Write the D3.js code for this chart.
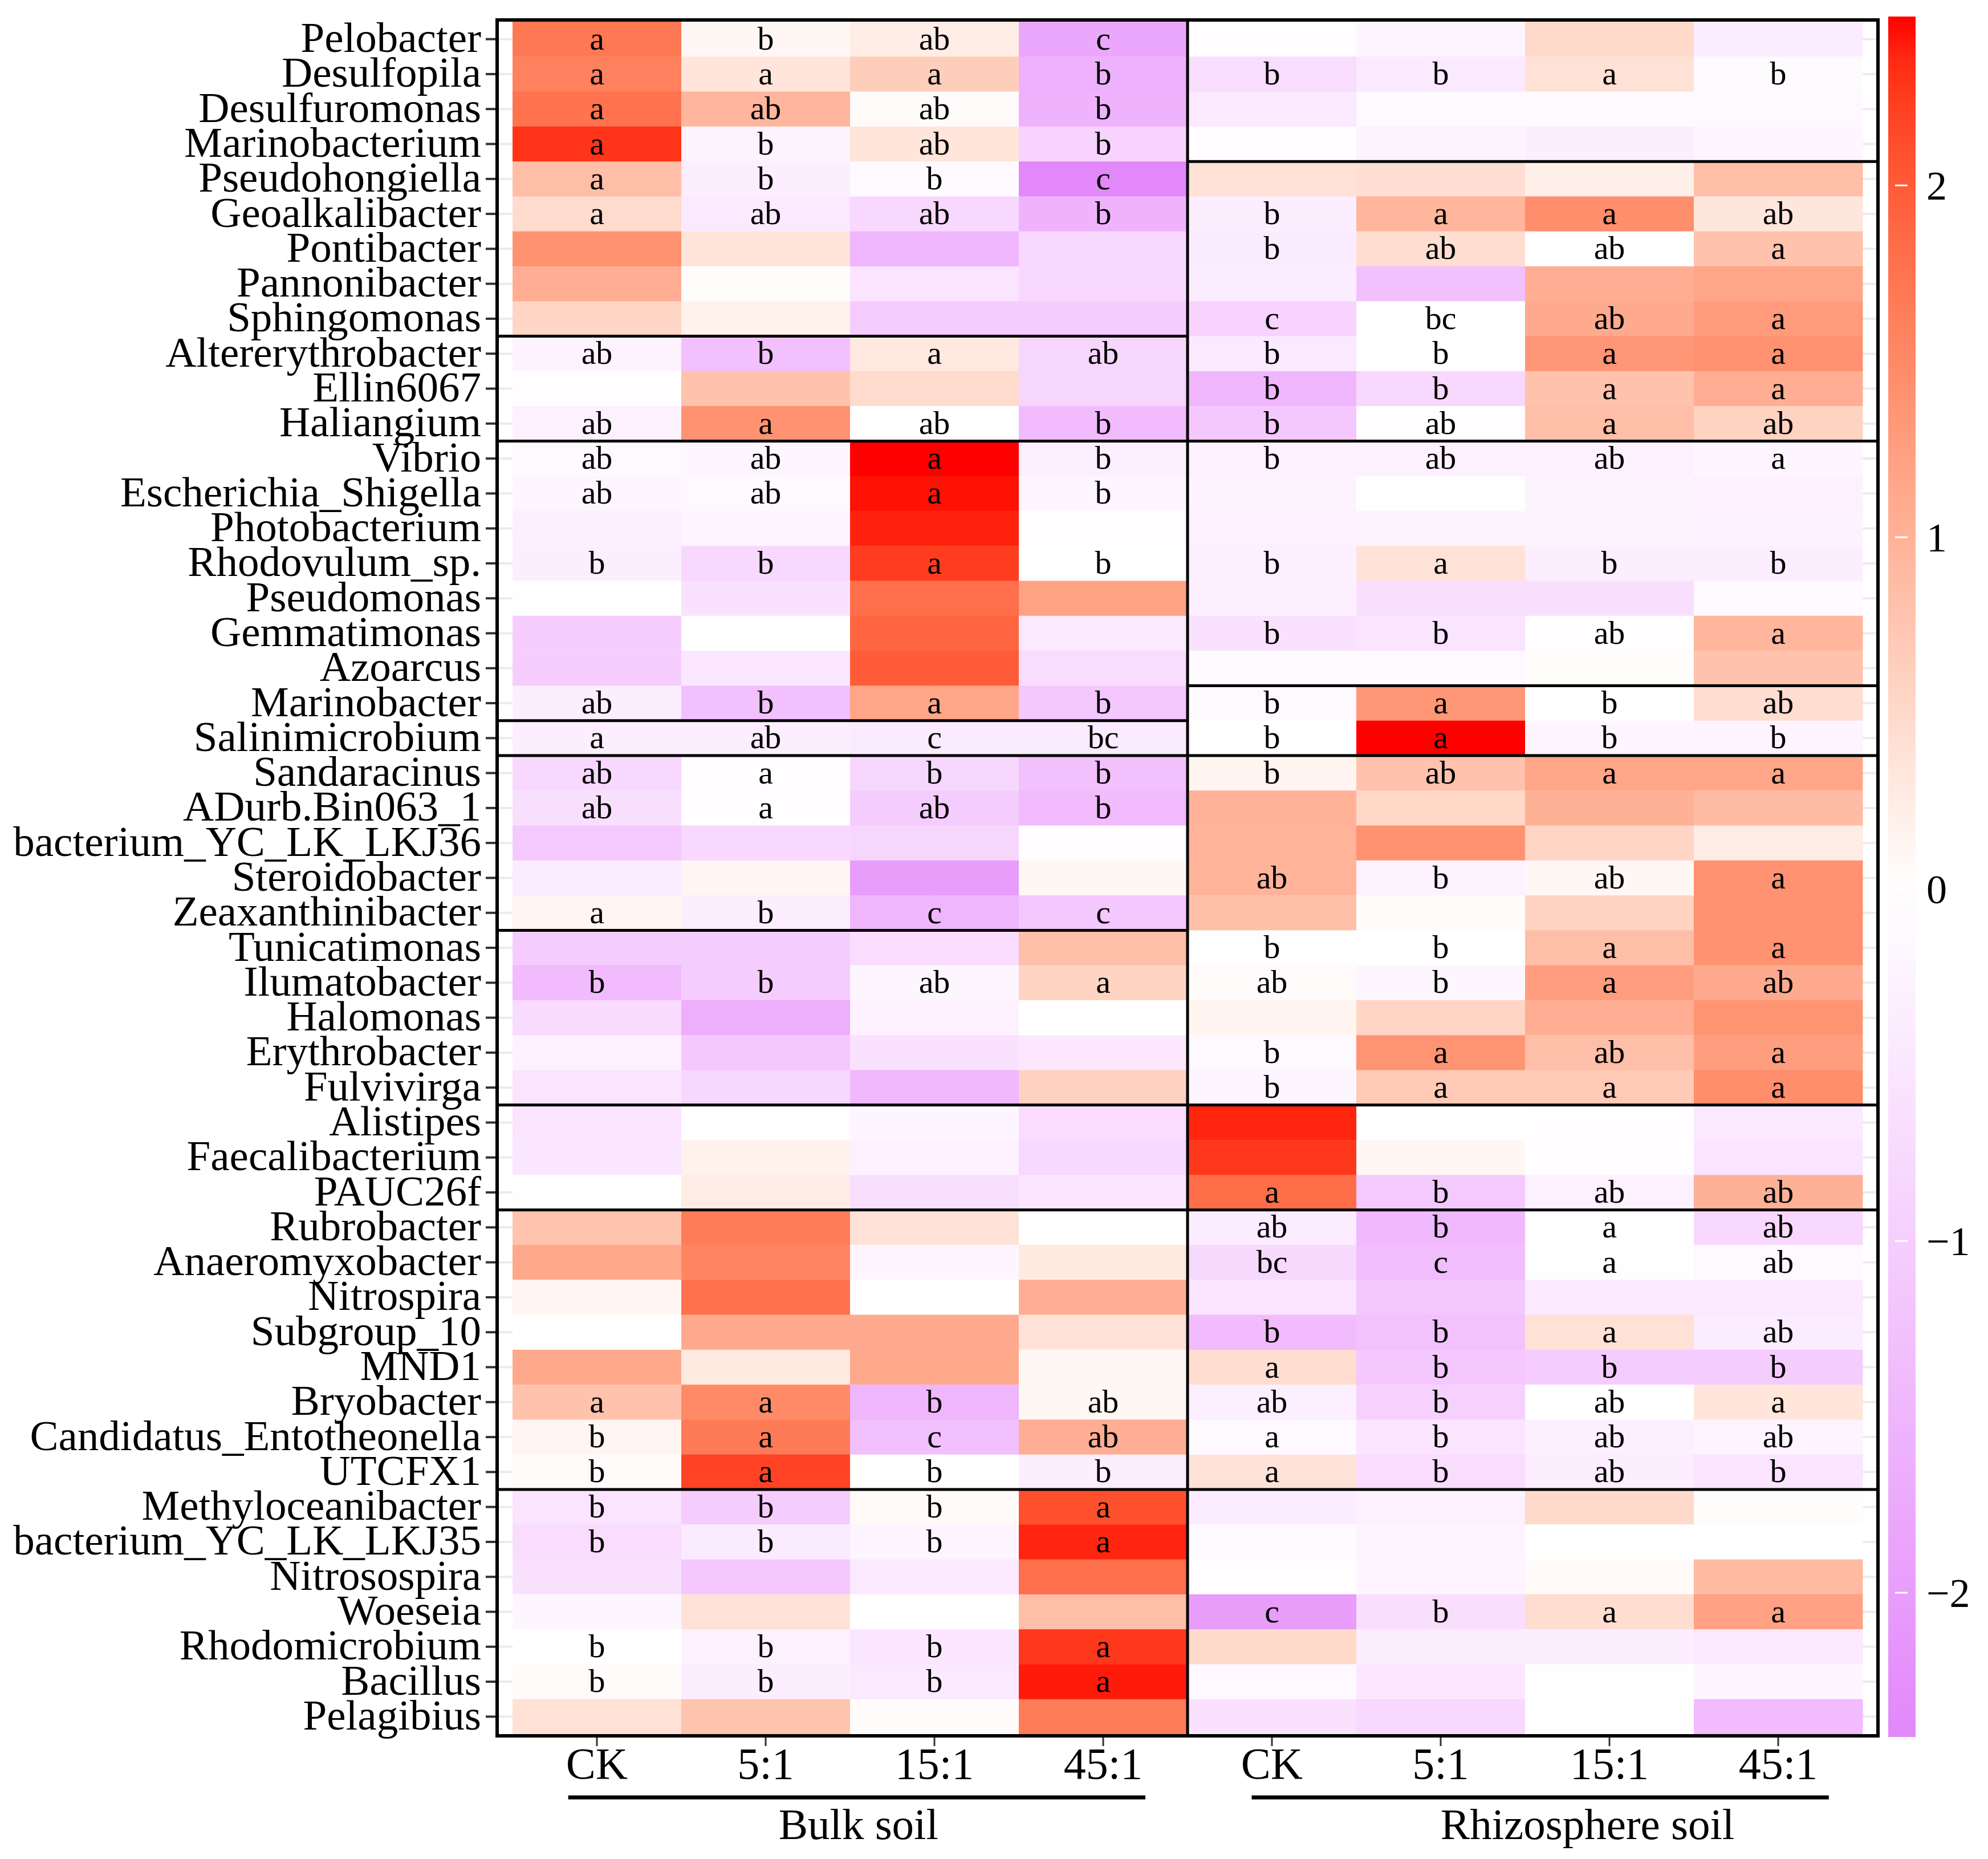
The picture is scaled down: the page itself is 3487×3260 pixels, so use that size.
<!DOCTYPE html>
<html>
<head>
<meta charset="utf-8">
<script src="https://cdn.jsdelivr.net/npm/d3@7"></script>
<style>
  body { margin: 0; background: #fff; }
  svg { display: block; }
</style>
</head>
<body>
<svg id="chart"></svg>
<script>
// genera (rows, top to bottom)
var genera = ["Pelobacter", "Desulfopila", "Desulfuromonas", "Marinobacterium", "Pseudohongiella",
    "Geoalkalibacter", "Pontibacter", "Pannonibacter", "Sphingomonas", "Altererythrobacter",
    "Ellin6067", "Haliangium", "Vibrio", "Escherichia_Shigella", "Photobacterium",
    "Rhodovulum_sp.", "Pseudomonas", "Gemmatimonas", "Azoarcus", "Marinobacter",
    "Salinimicrobium", "Sandaracinus", "ADurb.Bin063_1", "bacterium_YC_LK_LKJ36", "Steroidobacter",
    "Zeaxanthinibacter", "Tunicatimonas", "Ilumatobacter", "Halomonas", "Erythrobacter",
    "Fulvivirga", "Alistipes", "Faecalibacterium", "PAUC26f", "Rubrobacter",
    "Anaeromyxobacter", "Nitrospira", "Subgroup_10", "MND1", "Bryobacter",
    "Candidatus_Entotheonella", "UTCFX1", "Methyloceanibacter", "bacterium_YC_LK_LKJ35", "Nitrosospira",
    "Woeseia", "Rhodomicrobium", "Bacillus", "Pelagibius"];

var soils = ["Bulk soil", "Rhizosphere soil"];
var treatments = ["CK", "5:1", "15:1", "45:1"];

// z-scores, columns CK, 5:1, 15:1, 45:1
var bulkValues = [
    [1.7, 0.1, 0.25, -1.8], [1.6, 0.35, 0.65, -1.6], [1.75, 0.95, 0.05, -1.55], [2.3, -0.25, 0.35, -0.9],
    [0.85, -0.35, -0.1, -2.4], [0.48, -0.45, -0.8, -1.55], [1.4, 0.35, -1.5, -0.8], [1.05, 0.03, -0.55, -0.8],
    [0.55, 0.18, -1.05, -1.05], [-0.25, -1.3, 0.3, -0.85], [0.02, 0.8, 0.48, -0.85], [-0.3, 1.4, 0.0, -1.4],
    [-0.15, -0.18, 2.48, -0.33], [-0.18, -0.15, 2.45, -0.2], [-0.33, -0.22, 2.4, 0.02], [-0.35, -0.8, 2.25, 0.0],
    [-0.02, -0.6, 1.8, 1.2], [-1.0, 0.0, 1.9, -0.45], [-1.0, -0.5, 2.0, -0.7], [-0.35, -1.3, 1.15, -1.15],
    [-0.38, -0.38, -0.42, -0.42], [-0.8, -0.05, -0.85, -1.3], [-0.65, -0.05, -1.05, -1.4], [-1.1, -0.8, -0.85, -0.05],
    [-0.4, 0.13, -2.0, 0.1], [0.13, -0.38, -1.5, -1.15], [-1.05, -1.05, -0.72, 0.85], [-1.4, -1.05, -0.18, 0.57],
    [-0.75, -1.65, -0.3, 0.0], [-0.28, -1.15, -0.6, -0.48], [-0.55, -0.82, -1.45, 0.6], [-0.55, -0.02, -0.2, -0.72],
    [-0.52, 0.17, -0.28, -0.8], [-0.02, 0.25, -0.65, -0.52], [0.78, 1.65, 0.38, 0.0], [1.12, 1.55, -0.18, 0.28],
    [0.13, 1.78, 0.0, 1.05], [0.0, 1.1, 1.1, 0.38], [1.12, 0.28, 1.12, 0.1], [0.8, 1.5, -1.5, 0.1],
    [0.13, 1.68, -1.3, 1.05], [0.05, 2.2, 0.0, -0.38], [-0.55, -1.05, 0.07, 2.1], [-0.72, -0.42, -0.2, 2.38],
    [-0.6, -1.15, -0.45, 1.8], [-0.18, 0.38, 0.0, 0.85], [0.0, -0.28, -0.52, 2.28], [0.05, -0.38, -0.45, 2.42],
    [0.4, 0.78, 0.05, 1.65]
];

var rhizoValues = [
    [-0.05, -0.2, 0.5, -0.4], [-0.7, -0.45, 0.4, -0.08], [-0.45, -0.15, -0.1, -0.15], [-0.05, -0.25, -0.35, -0.2],
    [0.4, 0.42, 0.2, 0.85], [-0.38, 0.95, 1.45, 0.33], [-0.42, 0.45, -0.03, 0.8], [-0.4, -1.3, 1.05, 1.15],
    [-0.9, -0.03, 1.1, 1.3], [-0.45, -0.02, 1.35, 1.4], [-1.5, -0.8, 0.8, 1.05], [-1.15, 0.02, 0.85, 0.58],
    [-0.3, -0.28, -0.28, -0.2], [-0.25, -0.03, -0.25, -0.28], [-0.28, -0.25, -0.25, -0.27], [-0.33, 0.38, -0.35, -0.35],
    [-0.33, -0.65, -0.65, -0.1], [-0.6, -0.55, 0.02, 0.95], [-0.1, -0.15, 0.03, 0.8], [-0.15, 1.35, 0.0, 0.45],
    [0.0, 2.48, -0.2, -0.22], [0.15, 0.8, 1.15, 1.15], [1.0, 0.52, 1.02, 0.88], [0.98, 1.4, 0.55, 0.25],
    [0.98, -0.25, 0.1, 1.4], [0.82, 0.05, 0.57, 1.4], [-0.03, 0.0, 0.85, 1.4], [0.05, -0.18, 1.25, 1.1],
    [0.15, 0.55, 1.05, 1.38], [-0.15, 1.38, 0.85, 1.25], [-0.2, 0.7, 0.7, 1.45], [2.38, 0.0, -0.05, -0.45],
    [2.28, 0.1, -0.05, -0.55], [1.82, -1.1, -0.3, 1.02], [-0.4, -1.45, 0.0, -0.8], [-0.78, -1.35, -0.02, -0.12],
    [-0.55, -1.15, -0.43, -0.43], [-1.4, -1.25, 0.4, -0.4], [0.45, -1.15, -1.05, -1.05], [-0.33, -0.95, 0.0, 0.35],
    [-0.15, -0.55, -0.32, -0.22], [0.38, -0.72, -0.38, -0.55], [-0.4, -0.28, 0.5, 0.03], [-0.1, -0.22, 0.0, 0.0],
    [0.02, -0.22, 0.07, 0.9], [-2.0, -0.68, 0.45, 1.22], [0.5, -0.38, -0.38, -0.45], [-0.15, -0.48, -0.03, -0.18],
    [-0.6, -0.8, -0.03, -1.4]
];

// significance letters per row ("" = none)
var bulkLetters = [
    "a b ab c", "a a a b", "a ab ab b", "a b ab b", "a b b c", "a ab ab b", "", "", "",
    "ab b a ab", "", "ab a ab b", "ab ab a b", "ab ab a b", "", "b b a b", "", "", "",
    "ab b a b", "a ab c bc", "ab a b b", "ab a ab b", "", "", "a b c c", "", "b b ab a",
    "", "", "", "", "", "", "", "", "", "", "", "a a b ab", "b a c ab", "b a b b",
    "b b b a", "b b b a", "", "", "b b b a", "b b b a", ""
];
var rhizoLetters = [
    "", "b b a b", "", "", "", "b a a ab", "b ab ab a", "", "c bc ab a", "b b a a",
    "b b a a", "b ab a ab", "b ab ab a", "", "", "b a b b", "", "b b ab a", "",
    "b a b ab", "b a b b", "b ab a a", "", "", "ab b ab a", "", "b b a a", "ab b a ab",
    "", "b a ab a", "b a a a", "", "", "a b ab ab", "ab b a ab", "bc c a ab", "",
    "b b a ab", "a b b b", "ab b ab a", "a b ab ab", "a b ab b", "", "", "", "c b a a",
    "", "", ""
];

// cluster boundaries (row counts) drawn as boxes
var bulkBreaks = [9, 12, 20, 21, 26, 31, 34, 42];
var rhizoBreaks = [4, 12, 19, 21, 31, 34, 42];

var colorTicks = [-2, -1, 0, 1, 2];

var width = 3487, height = 3260;
var svg = d3.select("#chart").attr("width", width).attr("height", height);
var font = "'Liberation Serif', 'Times New Roman', serif";

// columns: soil x treatment
var columns = [];
soils.forEach((s, si) => treatments.forEach(t => columns.push({ key: si + "|" + t, soil: si, label: t })));

var x = d3.scaleBand().domain(columns.map(c => c.key)).range([899, 3267]);
var y = d3.scaleBand().domain(genera).range([38, 3041]);

var panel = { x0: 872, x1: 3294, y0: 35, y1: 3044 };

var color = d3.scaleLinear()
    .domain([-2.48, 0, 2.48])
    .range(["#e184fa", "#ffffff", "#ff0000"])
    .interpolate(d3.interpolateLab);

// cells
var cells = [];
genera.forEach((g, ri) => {
    [bulkValues, rhizoValues].forEach((vals, si) => {
        var lets = (si === 0 ? bulkLetters : rhizoLetters)[ri];
        var parts = lets ? lets.split(" ") : [];
        treatments.forEach((t, ti) => {
            cells.push({ row: g, col: si + "|" + t, v: vals[ri][ti], letter: parts[ti] || "" });
        });
    });
});

// grid lines (visible in the expansion gap)
var grid = svg.append("g");
grid.selectAll("line.h").data(genera).join("line")
    .attr("x1", panel.x0).attr("x2", panel.x1)
    .attr("y1", d => y(d) + y.bandwidth() / 2).attr("y2", d => y(d) + y.bandwidth() / 2)
    .attr("stroke", "#ebebeb").attr("stroke-width", 4);
grid.selectAll("line.v").data(columns).join("line")
    .attr("y1", panel.y0).attr("y2", panel.y1)
    .attr("x1", d => x(d.key) + x.bandwidth() / 2).attr("x2", d => x(d.key) + x.bandwidth() / 2)
    .attr("stroke", "#ebebeb").attr("stroke-width", 4);

svg.append("g").selectAll("rect").data(cells).join("rect")
    .attr("x", d => x(d.col))
    .attr("y", d => y(d.row))
    .attr("width", x.bandwidth() + 0.5)
    .attr("height", y.bandwidth() + 0.5)
    .attr("fill", d => color(d.v));

svg.append("g").selectAll("text").data(cells.filter(d => d.letter)).join("text")
    .attr("x", d => x(d.col) + x.bandwidth() / 2)
    .attr("y", d => y(d.row) + y.bandwidth() / 2 + 18)
    .attr("text-anchor", "middle")
    .attr("font-family", font)
    .attr("font-size", 58)
    .attr("fill", "#000")
    .text(d => d.letter);

// cluster boxes
function boxLines(breaks, xa, xb) {
    var g = svg.append("g");
    g.selectAll("line").data(breaks).join("line")
        .attr("x1", xa).attr("x2", xb)
        .attr("y1", d => y(genera[d])).attr("y2", d => y(genera[d]))
        .attr("stroke", "#000").attr("stroke-width", 5);
}
var mid = x(columns[4].key);
boxLines(bulkBreaks, panel.x0, mid);
boxLines(rhizoBreaks, mid, panel.x1);
svg.append("line")
    .attr("x1", mid).attr("x2", mid).attr("y1", panel.y0).attr("y2", panel.y1)
    .attr("stroke", "#000").attr("stroke-width", 5);
svg.append("rect")
    .attr("x", panel.x0).attr("y", panel.y0)
    .attr("width", panel.x1 - panel.x0).attr("height", panel.y1 - panel.y0)
    .attr("fill", "none").attr("stroke", "#000").attr("stroke-width", 6);

// y axis
var yAxis = svg.append("g")
    .attr("transform", "translate(" + (panel.x0 - 3) + ",0)")
    .call(d3.axisLeft(y).tickSize(17).tickPadding(8));
yAxis.select(".domain").remove();
yAxis.selectAll("line").attr("stroke", "#333").attr("stroke-width", 4);
yAxis.selectAll("text").attr("font-family", font).attr("font-size", 75).attr("fill", "#000").attr("dy", "0.3em");

// x axis
var xAxis = svg.append("g")
    .attr("transform", "translate(0," + (panel.y1 + 3) + ")")
    .call(d3.axisBottom(x).tickSize(15).tickPadding(2)
        .tickFormat(k => columns.find(c => c.key === k).label));
xAxis.select(".domain").remove();
xAxis.selectAll("line").attr("stroke", "#333").attr("stroke-width", 3);
xAxis.selectAll("text").attr("font-family", font).attr("font-size", 78).attr("fill", "#000");

// soil group labels with underline
var col = x.bandwidth();
var soilSpans = [[0.33, 3.75, 2.05], [4.38, 7.8, 6.37]];
soils.forEach((s, i) => {
    var sp = soilSpans[i];
    svg.append("line")
        .attr("x1", x.range()[0] + sp[0] * col).attr("x2", x.range()[0] + sp[1] * col)
        .attr("y1", 3152).attr("y2", 3152)
        .attr("stroke", "#000").attr("stroke-width", 7);
    svg.append("text")
        .attr("x", x.range()[0] + sp[2] * col).attr("y", 3225)
        .attr("text-anchor", "middle")
        .attr("font-family", font).attr("font-size", 77)
        .text(s);
});

// colour bar
var cb = { x: 3312, w: 48, top: 29, bottom: 3046 };
var cbScale = d3.scaleLinear().domain([-2.41, 2.48]).range([cb.bottom, cb.top]);
var defs = svg.append("defs");
var grad = defs.append("linearGradient").attr("id", "cbgrad")
    .attr("x1", 0).attr("x2", 0).attr("y1", 1).attr("y2", 0);
d3.range(0, 41).forEach(i => {
    var v = -2.41 + (2.48 + 2.41) * i / 40;
    grad.append("stop").attr("offset", (i / 40 * 100) + "%").attr("stop-color", color(v));
});
svg.append("rect")
    .attr("x", cb.x).attr("y", cb.top).attr("width", cb.w).attr("height", cb.bottom - cb.top)
    .attr("fill", "url(#cbgrad)");
svg.append("g").selectAll("line").data(colorTicks).join("line")
    .attr("x1", cb.x + 12).attr("x2", cb.x + 34)
    .attr("y1", d => cbScale(d)).attr("y2", d => cbScale(d))
    .attr("stroke", "#fff").attr("stroke-width", 3);
svg.append("g").selectAll("text").data(colorTicks).join("text")
    .attr("x", 3379)
    .attr("y", d => cbScale(d))
    .attr("dy", "0.35em")
    .attr("font-family", font).attr("font-size", 72)
    .text(d => d3.format("d")(d));
</script>
</body>
</html>
